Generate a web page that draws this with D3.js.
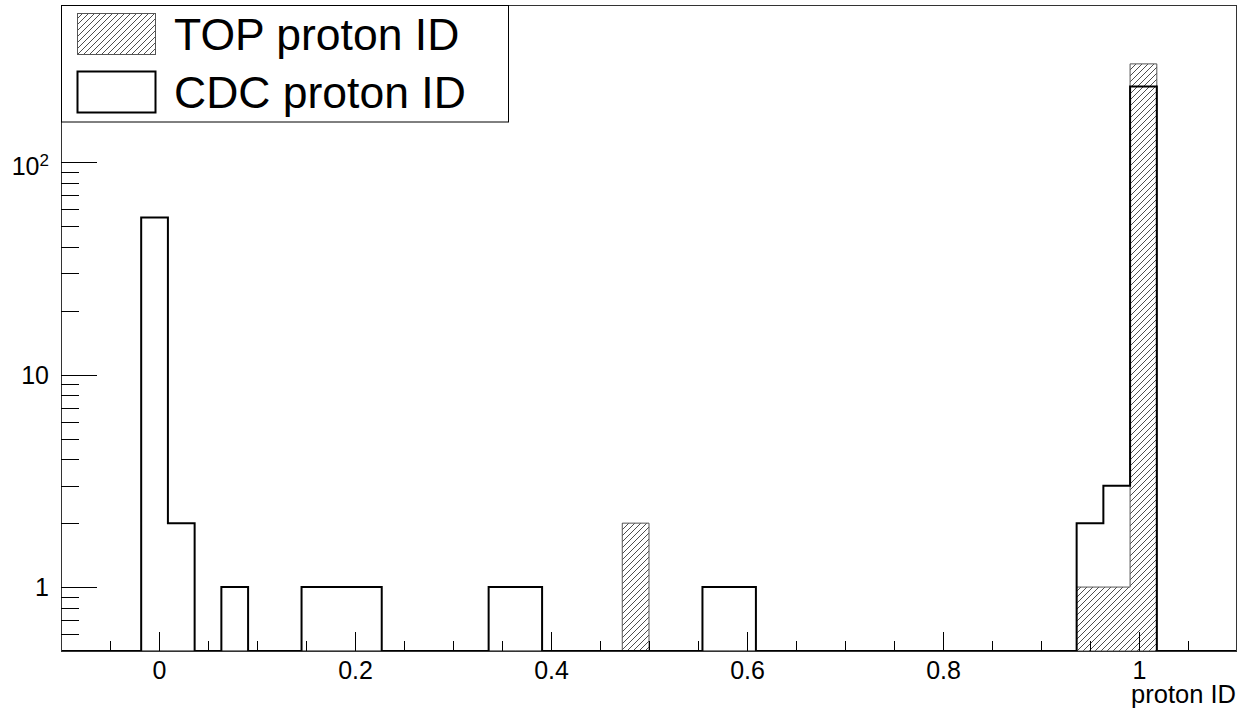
<!doctype html>
<html lang="en">
  <head>
    <meta charset="utf-8">
    <title>proton ID</title>
    <style>
        body {
            margin: 0;
            background-color: white;
        }
        text {
            font-family: "Liberation Sans", Arial, Helvetica, sans-serif;
            fill: black;
        }
        .tick line {
            stroke: black;
            shape-rendering: crispEdges;
        }
    </style>
    <script src="https://cdn.jsdelivr.net/npm/d3@7"></script>
  </head>
  <body>
    <div id="graph"></div>

<script>
// histogram binning (44 bins from -0.1 to 1.1)
var xMin = -0.1, xMax = 1.1, nBins = 44;

// bin contents
var topCounts = [0, 0, 0, 0, 0, 0, 0, 0, 0, 0, 0,
                 0, 0, 0, 0, 0, 0, 0, 0, 0, 0, 2,
                 0, 0, 0, 0, 0, 0, 0, 0, 0, 0, 0,
                 0, 0, 0, 0, 0, 1, 1, 291, 0, 0, 0];
var cdcCounts = [0, 0, 0, 55, 2, 0, 1, 0, 0, 1, 1,
                 1, 0, 0, 0, 0, 1, 1, 0, 0, 0, 0,
                 0, 0, 1, 1, 0, 0, 0, 0, 0, 0, 0,
                 0, 0, 0, 0, 0, 2, 3, 228, 0, 0, 0];

var seriesNames = ["TOP proton ID", "CDC proton ID"];
var xTicks = [0, 0.2, 0.4, 0.6, 0.8, 1];
var xMinorTicks = [-0.05, 0.05, 0.1, 0.15, 0.25, 0.3, 0.35, 0.45, 0.5, 0.55,
                   0.65, 0.7, 0.75, 0.85, 0.9, 0.95, 1.05];
var yTicks = [1, 10, 100];
var yMinorTicks = [0.6, 0.7, 0.8, 0.9, 2, 3, 4, 5, 6, 7, 8, 9,
                   20, 30, 40, 50, 60, 70, 80, 90, 200, 300, 400, 500];
var yMin = 0.5, yMax = 551;
var xTitle = "proton ID";

var W = 1240, H = 709;
var L = 61, R = 1237, T = 5, B = 651;

var svg = d3.select("#graph").append("svg")
    .attr("width", W)
    .attr("height", H);

var x = d3.scaleLinear().domain([xMin, xMax]).range([L, R]);
var y = d3.scaleLog().domain([yMin, yMax]).range([B, T]).clamp(true);

// hatch pattern like ROOT fill style 3004
var defs = svg.append("defs");
defs.append("pattern")
    .attr("id", "hatch")
    .attr("patternUnits", "userSpaceOnUse")
    .attr("width", 6)
    .attr("height", 6)
  .append("path")
    .attr("d", "M0,6 L6,0 M-1.5,1.5 L1.5,-1.5 M4.5,7.5 L7.5,4.5")
    .attr("stroke", "#3a3a3a")
    .attr("stroke-width", 0.9);

svg.append("clipPath").attr("id", "frameClip")
  .append("rect")
    .attr("x", L).attr("y", T).attr("width", R - L).attr("height", B - T);

function stepPoints(counts) {
    var bw = (xMax - xMin) / nBins;
    var pts = [[xMin, yMin]];
    counts.forEach(function(c, i) {
        var v = c > 0 ? c : yMin;
        pts.push([xMin + i * bw, v]);
        pts.push([xMin + (i + 1) * bw, v]);
    });
    pts.push([xMax, yMin]);
    return pts;
}

var line = d3.line()
    .x(function(d) { return x(d[0]); })
    .y(function(d) { return y(d[1]); });

var plot = svg.append("g").attr("clip-path", "url(#frameClip)");

plot.append("path")
    .attr("d", line(stepPoints(topCounts)) + "Z")
    .attr("fill", "url(#hatch)")
    .attr("stroke", "#555")
    .attr("stroke-width", 1);

plot.append("path")
    .attr("d", line(stepPoints(cdcCounts)))
    .attr("fill", "none")
    .attr("stroke", "black")
    .attr("stroke-width", 2);

// frame
svg.append("rect")
    .attr("x", L + 0.5).attr("y", T + 0.5)
    .attr("width", R - L - 1).attr("height", B - T)
    .attr("fill", "none")
    .attr("stroke", "#333")
    .attr("stroke-width", 1);

// x axis
var gx = svg.append("g")
    .attr("transform", "translate(0," + B + ")")
    .call(d3.axisBottom(x).tickValues(xTicks).tickSizeInner(-19).tickSizeOuter(0)
          .tickFormat(d3.format("~g")));
gx.select(".domain").remove();
gx.selectAll("text")
    .attr("y", 27.5).attr("dy", 0)
    .style("font-size", "25px");

var gxm = svg.append("g")
    .attr("transform", "translate(0," + B + ")")
    .call(d3.axisBottom(x).tickValues(xMinorTicks).tickSizeInner(-10).tickSizeOuter(0)
          .tickFormat(""));
gxm.select(".domain").remove();

// y axis
var gy = svg.append("g")
    .attr("transform", "translate(" + L + ",0)")
    .call(d3.axisLeft(y).tickValues(yTicks).tickSizeInner(-36).tickSizeOuter(0)
          .tickFormat(""));
gy.select(".domain").remove();

var gym = svg.append("g")
    .attr("transform", "translate(" + L + ",0)")
    .call(d3.axisLeft(y).tickValues(yMinorTicks).tickSizeInner(-18).tickSizeOuter(0)
          .tickFormat(""));
gym.select(".domain").remove();

yTicks.forEach(function(v) {
    var t = svg.append("text")
        .attr("x", 49)
        .attr("text-anchor", "end")
        .style("font-size", "25px");
    if (v >= 100) {
        t.attr("y", y(v) + 12.5);
        t.append("tspan").text("10");
        t.append("tspan")
            .attr("dy", -9)
            .style("font-size", "17px")
            .text(String(Math.round(Math.log10(v))));
    } else {
        t.attr("y", y(v) + 9).text(v);
    }
});

svg.append("text")
    .attr("x", 1236)
    .attr("y", 703)
    .attr("text-anchor", "end")
    .style("font-size", "25.5px")
    .text(xTitle);

// legend
var legend = svg.append("g");
legend.append("rect")
    .attr("x", L + 0.5).attr("y", T + 0.5)
    .attr("width", 447).attr("height", 116.5)
    .attr("fill", "white")
    .attr("stroke", "black")
    .attr("stroke-width", 1);

var entries = [
    { name: seriesNames[0], fill: "url(#hatch)", stroke: "#555", sw: 1, y0: 13 },
    { name: seriesNames[1], fill: "white", stroke: "black", sw: 2, y0: 71 }
];
entries.forEach(function(e) {
    legend.append("rect")
        .attr("x", 77.5).attr("y", e.y0 + 0.5)
        .attr("width", 78).attr("height", 41)
        .attr("fill", e.fill)
        .attr("stroke", e.stroke)
        .attr("stroke-width", e.sw);
    legend.append("text")
        .attr("x", 174)
        .attr("y", e.y0 + 36.5)
        .style("font-size", "44.5px")
        .text(e.name);
});
</script>
  </body>
</html>
